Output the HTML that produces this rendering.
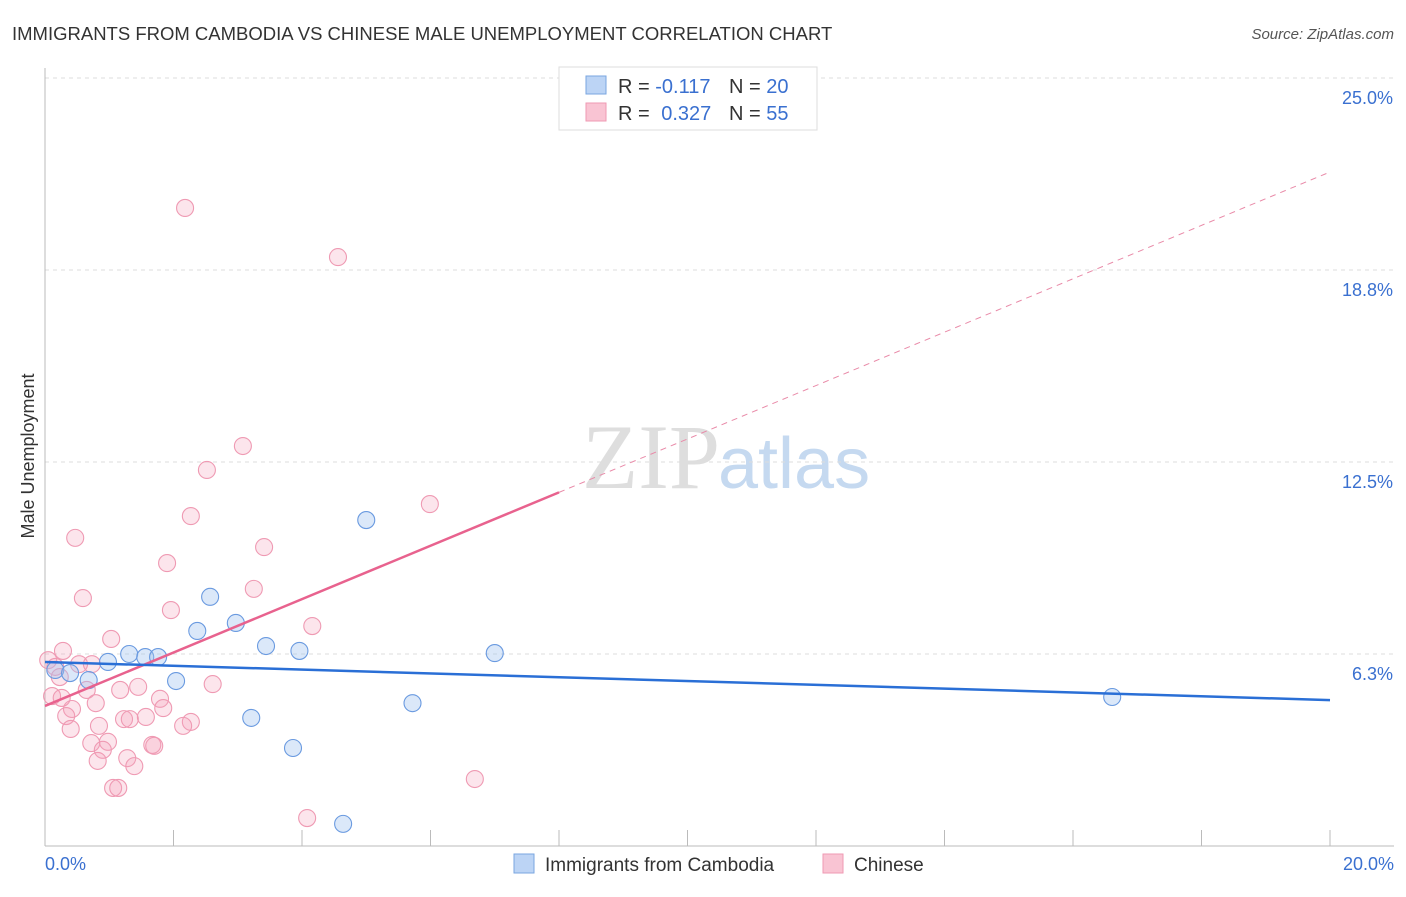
<!DOCTYPE html>
<html><head><meta charset="utf-8"><style>
body{margin:0;background:#fff;font-family:"Liberation Sans",sans-serif}
</style></head><body>
<svg id="c" width="1406" height="892" xmlns="http://www.w3.org/2000/svg">
<text x="12" y="40" font-size="18.5" fill="#333">IMMIGRANTS FROM CAMBODIA VS CHINESE MALE UNEMPLOYMENT CORRELATION CHART</text>
<text x="1394" y="39" font-size="15" fill="#555" text-anchor="end" font-style="italic">Source: ZipAtlas.com</text>
<text x="720" y="488" font-size="92" fill="#dedede" text-anchor="end" font-family="Liberation Serif">ZIP</text>
<text x="718" y="488" font-size="72" fill="#c5d9f0">atlas</text>
<text transform="translate(34,456) rotate(-90)" font-size="18" fill="#333" text-anchor="middle">Male Unemployment</text>
<g id="grid"></g><g id="marks"></g>
<g>
<rect x="559" y="67" width="258" height="63" fill="#fff" stroke="#ddd"/>
<rect x="586" y="76" width="20" height="18" fill="#bcd4f5" stroke="#7aa6e0"/>
<rect x="586" y="103" width="20" height="18" fill="#f9c4d3" stroke="#ef9ab3"/>
<text x="618" y="93" font-size="20" fill="#333">R = <tspan fill="#3a70d0">-0.117</tspan></text>
<text x="729" y="93" font-size="20" fill="#333">N = <tspan fill="#3a70d0">20</tspan></text>
<text x="618" y="120" font-size="20" fill="#333">R = <tspan fill="#3a70d0" dx="6">0.327</tspan></text>
<text x="729" y="120" font-size="20" fill="#333">N = <tspan fill="#3a70d0">55</tspan></text>
</g>
<g>
<rect x="514" y="854" width="20" height="19" fill="#bcd4f5" stroke="#7aa6e0"/>
<text x="545" y="871" font-size="19" fill="#333">Immigrants from Cambodia</text>
<rect x="823" y="854" width="20" height="19" fill="#f9c4d3" stroke="#ef9ab3"/>
<text x="854" y="871" font-size="19" fill="#333">Chinese</text>
</g>
</svg>
<script>
const yTicks=[6.25,12.5,18.75,25];
const yTickLabels=["6.3%","12.5%","18.8%","25.0%"];
const xTickLabels=["0.0%","20.0%"];
const blueX=[0.16,0.39,0.68,0.98,1.31,1.56,1.76,2.04,2.37,2.57,2.97,3.21,3.44,3.86,3.96,4.64,5.00,5.72,7.00,16.61];
const blueY=[5.73,5.63,5.40,5.99,6.25,6.15,6.15,5.37,7.00,8.11,7.26,4.17,6.51,3.19,6.35,0.72,10.61,4.65,6.28,4.85];
const pinkX=[2.18,4.56,3.08,2.52,5.99,2.27,3.41,0.47,1.90,0.59,3.25,1.96,4.16,1.03,0.28,0.05,0.16,0.53,0.73,0.23,0.65,1.17,1.45,2.61,1.79,0.42,0.79,0.11,0.26,1.84,0.33,1.23,1.32,1.57,2.27,0.84,2.15,0.40,0.72,0.98,0.90,1.28,0.82,1.39,1.67,1.70,1.06,1.14,6.69,4.08];
const pinkY=[20.77,19.17,13.02,12.24,11.13,10.74,9.73,10.03,9.21,8.07,8.37,7.68,7.16,6.74,6.35,6.05,5.83,5.92,5.92,5.50,5.08,5.08,5.18,5.27,4.79,4.46,4.65,4.88,4.82,4.49,4.23,4.13,4.13,4.20,4.04,3.91,3.91,3.81,3.35,3.39,3.13,2.86,2.77,2.60,3.29,3.26,1.89,1.89,2.18,0.91];
const blueTrend=[5.99,4.75];
const pinkTrend=[4.56,21.94];
const pinkSolidEnd=8;
const X=v=>45+v/20*1285, Y=v=>846-v/25*768;
const NS="http://www.w3.org/2000/svg";
function mk(t,a,p){const e=document.createElementNS(NS,t);for(const k in a)e.setAttribute(k,a[k]);p.appendChild(e);return e;}
const g=document.getElementById('grid'), m=document.getElementById('marks');
yTicks.forEach((t,i)=>{
 const l=mk('line',{x1:45,x2:1394,y1:Y(t),y2:Y(t),stroke:'#ddd','stroke-dasharray':'4,4'},g);
 
 
 const tx=mk('text',{x:1393,y:Y(t)+26,'font-size':18,fill:'#3a70d0','text-anchor':'end'},g);
 tx.textContent=yTickLabels[i];
 
 
});
const ax=mk('line',{x1:45,x2:45,y1:68,y2:846,stroke:'#bbb'},g);


const bx=mk('line',{x1:45,x2:1394,y1:846,y2:846,stroke:'#bbb'},g);


for(let i=1;i<=10;i++){const t=mk('line',{x1:X(i*2),x2:X(i*2),y1:830,y2:846,stroke:'#bbb'},g);
 
 }
[[0,'start',45],[20,'end',1394]].forEach((d,i)=>{const t=mk('text',{x:d[2],y:870,'font-size':18,fill:'#3a70d0','text-anchor':d[1]},g);t.textContent=xTickLabels[i];
 
 });
pinkX.forEach((x,i)=>{const c=mk('circle',{cx:X(x),cy:Y(pinkY[i]),r:8.5,fill:'rgba(245,160,185,0.28)',stroke:'#ef9ab3','stroke-width':1.1},m);
 
 });
blueX.forEach((x,i)=>{const c=mk('circle',{cx:X(x),cy:Y(blueY[i]),r:8.5,fill:'rgba(160,195,240,0.38)',stroke:'#6a9ae0','stroke-width':1.1},m);
 
 });
const pe=pinkTrend[0]+(pinkTrend[1]-pinkTrend[0])*pinkSolidEnd/20;
const pd=mk('line',{x1:X(pinkSolidEnd),y1:Y(pe),x2:X(20),y2:Y(pinkTrend[1]),stroke:'#e98aa8','stroke-dasharray':'6,5','stroke-width':1},m);


const ps=mk('line',{x1:X(0),y1:Y(pinkTrend[0]),x2:X(pinkSolidEnd),y2:Y(pe),stroke:'#e8628e','stroke-width':2.5},m);


const bl=mk('line',{x1:X(0),y1:Y(blueTrend[0]),x2:X(20),y2:Y(blueTrend[1]),stroke:'#2a6fd6','stroke-width':2.5},m);


</script>
</body></html>
